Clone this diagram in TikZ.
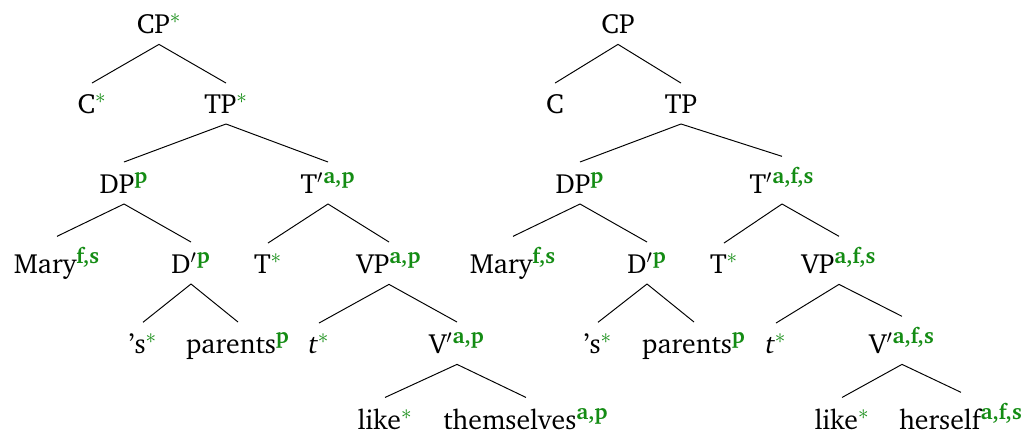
\documentclass[tikz,border=0pt]{standalone}
\usepackage[T1]{fontenc}
\usepackage{charter}
\definecolor{featgreen}{RGB}{20,140,20}
\newcommand{\feat}[1]{\textsuperscript{\fontsize{12.5}{12.5}\selectfont\color{featgreen}\bfseries #1}}
\newcommand{\hd}{\textsuperscript{\fontsize{13}{13}\selectfont\color{featgreen}$\ast$}}
\tikzset{cat/.style={anchor=base, inner xsep=0pt, inner ysep=0.21cm,
    font=\fontsize{15.8}{19}\selectfont}}
\begin{document}
\begin{tikzpicture}[x=0.02cm,y=-0.02cm,line width=0.55pt]
  \useasboundingbox (0,0) rectangle (1026,434);
  % left tree
  \node[cat] (cpA) at (159,33) {CP\hd};
  \node[cat] (cA) at (92,113) {C\hd};
  \node[cat] (tpA) at (226,113) {TP\hd};
  \node[cat] (dpA) at (124,193) {DP\feat{p}};
  \node[cat] (tbA) at (328,193) {T$'$\feat{a,p}};
  \node[cat] (maryA) at (57,273) {Mary\feat{f,s}};
  \node[cat] (dbA) at (191,273) {D$'$\feat{p}};
  \node[cat] (tA) at (268,273) {T\hd};
  \node[cat] (vpA) at (389,273) {VP\feat{a,p}};
  \node[cat] (sA) at (143,353) {'s\hd};
  \node[cat] (parA) at (238,353) {parents\feat{p}};
  \node[cat] (trA) at (319,353) {\textit{t}\hd};
  \node[cat] (vbA) at (457,353) {V$'$\feat{a,p}};
  \node[cat] (likeA) at (385,429) {like\hd};
  \node[cat] (themA) at (526,429) {themselves\feat{a,p}};
  % right tree
  \node[cat] (cpB) at (618,33) {CP};
  \node[cat] (cB) at (555,113) {C};
  \node[cat] (tpB) at (681,113) {TP};
  \node[cat] (dpB) at (580,193) {DP\feat{p}};
  \node[cat] (tbB) at (782,193) {T$'$\feat{a,f,s}};
  \node[cat] (maryB) at (513,273) {Mary\feat{f,s}};
  \node[cat] (dbB) at (647,273) {D$'$\feat{p}};
  \node[cat] (tB) at (724,273) {T\hd};
  \node[cat] (vpB) at (839,273) {VP\feat{a,f,s}};
  \node[cat] (sB) at (598,353) {'s\hd};
  \node[cat] (parB) at (694,353) {parents\feat{p}};
  \node[cat] (trB) at (776,353) {\textit{t}\hd};
  \node[cat] (vbB) at (902,353) {V$'$\feat{a,f,s}};
  \node[cat] (likeB) at (842,429) {like\hd};
  \node[cat] (herB) at (961,429) {herself\feat{a,f,s}};
  \foreach \up/\down in {cpA/cA,cpA/tpA,tpA/dpA,tpA/tbA,dpA/maryA,dpA/dbA,
      tbA/tA,tbA/vpA,dbA/sA,dbA/parA,vpA/trA,vpA/vbA,vbA/likeA,vbA/themA,
      cpB/cB,cpB/tpB,tpB/dpB,tpB/tbB,dpB/maryB,dpB/dbB,
      tbB/tB,tbB/vpB,dbB/sB,dbB/parB,vpB/trB,vpB/vbB,vbB/likeB,vbB/herB}
    \draw (\up.south) -- (\down.north);
\end{tikzpicture}
\end{document}
